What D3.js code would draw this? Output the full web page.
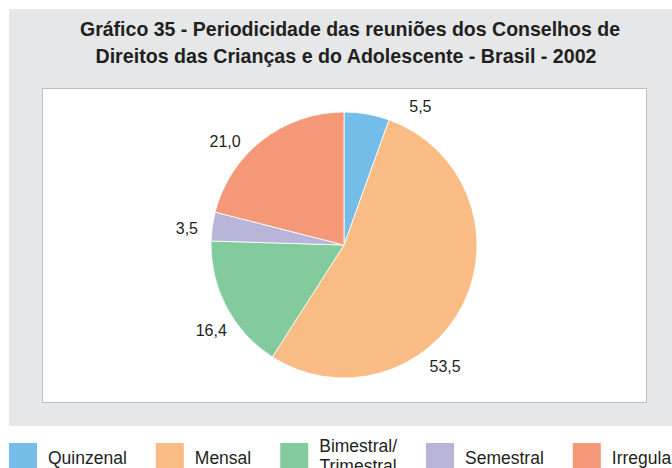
<!DOCTYPE html>
<html>
<head>
<meta charset="utf-8">
<script src="https://cdn.jsdelivr.net/npm/d3@7"></script>
<style>
  html, body { margin: 0; padding: 0; background: #fff; }
  svg { display: block; font-family: "Liberation Sans", Arial, sans-serif; }
</style>
</head>
<body>
<script>
const categories = ['Quinzenal', 'Mensal', 'Bimestral/\nTrimestral', 'Semestral', 'Irregular'];
const values = [5.5, 53.5, 16.4, 3.5, 21.0];
const colors = ['#74bde8', '#f9bc85', '#83cb9c', '#b9b5d9', '#f59878'];
const titleLines = [
  'Gráfico 35 - Periodicidade das reuniões dos Conselhos de',
  'Direitos das Crianças e do Adolescente - Brasil - 2002'
];

const width = 672;
const height = 468;
const cx = 344, cy = 245, radius = 133;

// label placement nudges (degrees), mimics the original chart's label positions
const labelShift = [19, 24, -5, -2, -11];
const labelRadius = 158;

// title is a condensed face in the original; squeeze to the same widths
const titleWidths = [540, 501];
const titleCenters = [350, 346];

const fmt = v => d3.format('.1f')(v).replace('.', ',');

const svg = d3.select('body')
  .append('svg')
  .attr('width', width)
  .attr('height', height);

// gray panel + white plot box
svg.append('rect')
  .attr('x', 9).attr('y', 9)
  .attr('width', width - 9).attr('height', 417)
  .attr('fill', '#e6e7e8');

svg.append('rect')
  .attr('x', 42.5).attr('y', 88.5)
  .attr('width', 604).attr('height', 314)
  .attr('fill', '#fff')
  .attr('stroke', '#bcbec0');

svg.append('g')
  .selectAll('text')
  .data(titleLines).enter()
  .append('text')
  .attr('x', (d, i) => titleCenters[i])
  .attr('y', (d, i) => 36 + i * 27)
  .attr('text-anchor', 'middle')
  .attr('font-weight', 'bold')
  .attr('font-size', 21)
  .attr('textLength', (d, i) => titleWidths[i])
  .attr('lengthAdjust', 'spacingAndGlyphs')
  .attr('fill', '#231f20')
  .text(d => d);

const pie = d3.pie().sort(null).value(d => d);
const arcs = pie(values);
const arc = d3.arc().innerRadius(0).outerRadius(radius);

const g = svg.append('g').attr('transform', `translate(${cx},${cy})`);

g.selectAll('path')
  .data(arcs).enter()
  .append('path')
  .attr('d', arc)
  .attr('fill', (d, i) => colors[i])
  .attr('stroke', '#fff')
  .attr('stroke-width', 0.8);

const labelPos = (d, i) => {
  const a = (d.startAngle + d.endAngle) / 2 + labelShift[i] * Math.PI / 180;
  return [Math.sin(a) * labelRadius, -Math.cos(a) * labelRadius];
};

g.selectAll('text.val')
  .data(arcs).enter()
  .append('text')
  .attr('class', 'val')
  .attr('x', (d, i) => labelPos(d, i)[0])
  .attr('y', (d, i) => labelPos(d, i)[1])
  .attr('dy', '0.35em')
  .attr('text-anchor', 'middle')
  .attr('font-size', 16)
  .attr('fill', '#231f20')
  .text(d => fmt(d.value));

// legend, laid out as a flow
const legend = svg.append('g').attr('class', 'legend');
let lx = 9;
categories.forEach((c, i) => {
  const item = legend.append('g');
  item.append('rect')
    .attr('x', lx).attr('y', 443)
    .attr('width', 28).attr('height', 30)
    .attr('fill', colors[i]);
  const lines = c.split('\n');
  const t = item.append('text')
    .attr('font-size', 17.5)
    .attr('fill', '#231f20')
    .attr('text-anchor', lines.length > 1 ? 'middle' : 'start');
  let w = 0;
  lines.forEach((ln, j) => {
    const ts = t.append('tspan')
      .attr('y', lines.length > 1 ? 452 + j * 20 : 464)
      .text(ln);
    w = Math.max(w, ts.node().getComputedTextLength());
  });
  const tx = lx + 28 + 11;
  t.selectAll('tspan').attr('x', lines.length > 1 ? tx + w / 2 : tx);
  lx = tx + w + 29;
});
</script>
</body>
</html>
